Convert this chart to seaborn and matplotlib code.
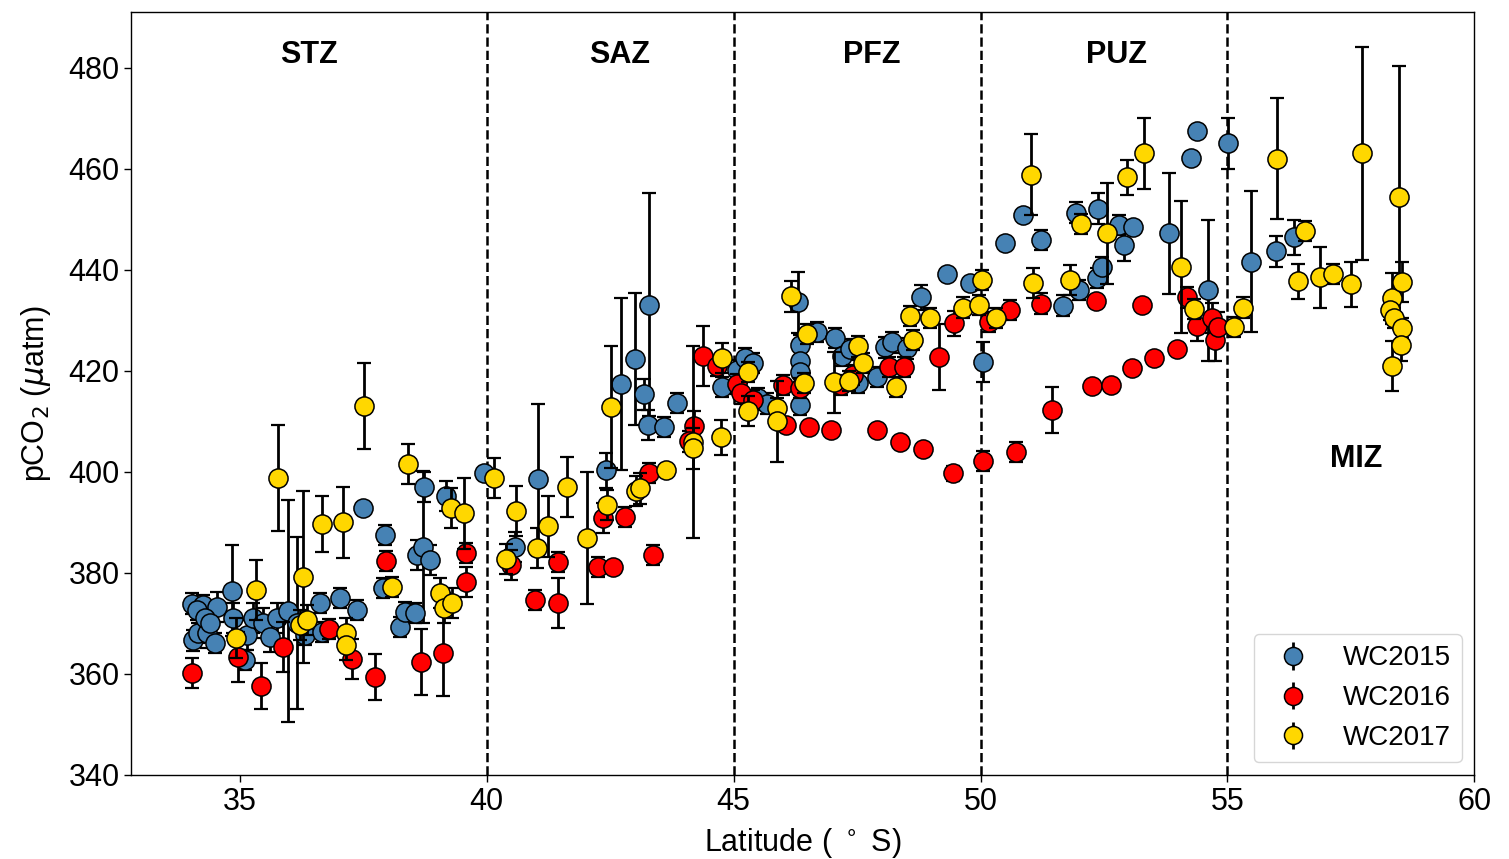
import numpy as np
import pandas as pd
import matplotlib
matplotlib.use("Agg")
import matplotlib.pyplot as plt
import seaborn as sns

# ---------------- data ----------------
lat_2015 = [34.02, 34.25, 34.13, 34.05, 34.15, 34.33, 34.49, 34.53, 34.30, 34.40, 34.84, 34.86, 35.14, 35.10,
            35.26, 35.47, 35.61, 35.75, 35.97, 36.15, 36.32, 36.62, 36.66, 37.02, 37.37, 37.49, 37.94, 37.89,
            38.24, 38.34, 38.54, 38.58, 38.70, 38.85, 38.72, 39.17, 39.94, 40.57, 41.03, 42.41, 42.71, 43.00,
            43.28, 43.18, 43.26, 43.58, 43.85, 44.76, 45.06, 45.22, 45.39, 45.49, 45.67, 46.30, 46.34, 46.34,
            46.34, 46.34, 46.68, 47.06, 47.20, 47.35, 47.51, 47.91, 48.06, 48.20, 48.52, 48.80, 49.33, 49.78,
            50.04, 50.49, 50.87, 51.23, 51.66, 52.00, 51.94, 52.37, 52.35, 52.47, 52.81, 53.08, 52.91, 53.81,
            54.27, 54.39, 54.60, 55.02, 55.47, 55.99, 56.34]
pco2_2015 = [373.9, 373.6, 372.6, 366.6, 368.1, 368.1, 366.1, 373.2, 371.0, 370.0, 376.4, 371.0, 367.7, 362.7,
             371.0, 370.0, 367.3, 371.0, 372.4, 370.0, 367.7, 374.0, 368.3, 375.0, 372.6, 392.8, 387.5, 377.0,
             369.3, 372.2, 372.0, 383.5, 385.1, 382.5, 397.0, 395.2, 399.7, 385.1, 398.5, 400.3, 417.3, 422.3,
             433.1, 415.3, 409.2, 408.8, 413.6, 416.7, 420.1, 422.5, 421.5, 414.5, 413.5, 433.5, 425.0, 422.0,
             419.7, 413.2, 427.6, 426.4, 423.0, 424.2, 417.5, 418.7, 424.6, 425.6, 424.4, 434.5, 439.1, 437.3,
             421.7, 445.2, 450.9, 445.8, 432.9, 435.9, 451.3, 452.1, 438.3, 440.5, 448.8, 448.4, 444.8, 447.2,
             462.2, 467.5, 435.9, 465.0, 441.6, 443.6, 446.4]
err_2015 = [2, 2, 2, 2, 2, 3, 2, 3, 2, 2, 9, 3, 3, 2,
            3, 3, 3, 3, 22, 17, 2, 2, 2, 2, 2, 1, 2, 2,
            2, 2, 2, 3, 15, 3, 3, 3, 1, 3, 15, 3.5, 17, 13,
            22, 3, 3, 2, 2, 2, 2, 2, 2, 2, 2, 6, 2, 2,
            2, 2, 2, 2, 2, 2, 2, 2, 2, 2, 2, 2.5, 1, 1,
            4, 1, 1, 2, 2, 2, 2, 3, 2, 2, 2, 1, 3, 12,
            1, 1, 14, 5, 14, 3, 3.5]

lat_2016 = [34.03, 34.96, 35.43, 35.87, 36.80, 37.27, 37.73, 37.96, 38.66, 39.11, 39.57, 39.57, 40.50, 40.97,
            41.44, 41.44, 42.25, 42.55, 42.35, 42.79, 43.28, 43.36, 44.19, 44.09, 44.37, 44.66, 45.06, 45.14,
            45.39, 46.00, 46.34, 46.07, 46.52, 46.98, 47.18, 47.41, 47.90, 48.14, 48.36, 48.44, 48.83, 49.15,
            49.47, 49.45, 50.04, 50.18, 50.59, 50.71, 51.23, 51.44, 52.25, 52.33, 52.65, 53.06, 53.26, 53.52,
            53.97, 54.19, 54.39, 54.68, 54.74, 54.80]
pco2_2016 = [360.2, 363.3, 357.6, 365.3, 368.9, 362.9, 359.4, 382.3, 362.3, 364.1, 383.9, 378.2, 381.5, 374.6,
             374.0, 382.1, 381.1, 381.1, 390.8, 391.0, 399.7, 383.5, 409.0, 406.0, 422.9, 420.9, 417.3, 415.5,
             414.2, 417.1, 416.5, 409.2, 408.8, 408.2, 417.1, 419.1, 408.2, 420.7, 405.9, 420.7, 404.5, 422.7,
             429.4, 399.7, 402.1, 429.6, 432.0, 403.9, 433.3, 412.2, 416.9, 433.7, 417.1, 420.5, 433.1, 422.5,
             424.2, 434.5, 428.8, 430.4, 426.0, 428.6]
err_2016 = [3, 5, 4.5, 5, 2, 4, 4.5, 2, 6.5, 8.5, 2, 3, 3, 2,
            5, 2, 2, 1, 3, 2, 2, 2, 3, 2, 6, 2, 2, 2,
            2, 2, 2, 1, 1, 1, 2, 2, 1, 2, 1, 2, 1, 6.5,
            2.5, 1.5, 2, 2, 2, 2, 2, 4.5, 1, 1, 1, 1, 1, 1,
            1, 2, 3, 3, 4, 3]

lat_2017 = [34.92, 35.32, 35.77, 36.28, 36.21, 36.35, 36.66, 37.08, 37.15, 37.15, 37.51, 38.40, 38.08, 39.05,
            39.13, 39.29, 39.27, 39.53, 40.14, 40.38, 40.59, 41.01, 41.23, 41.62, 42.02, 42.43, 42.51, 43.02,
            43.10, 43.62, 44.17, 44.17, 44.76, 44.74, 45.30, 45.29, 45.87, 45.87, 46.17, 46.48, 46.42, 47.04,
            47.33, 47.51, 47.61, 48.28, 48.57, 48.63, 48.97, 49.64, 49.96, 50.02, 50.32, 51.03, 51.07, 51.82,
            52.04, 52.57, 52.96, 53.32, 54.07, 54.33, 55.14, 55.32, 56.01, 56.58, 56.42, 56.88, 57.14, 57.51,
            57.73, 58.48, 58.34, 58.30, 58.38, 58.54, 58.54, 58.52, 58.34]
pco2_2017 = [367.1, 376.6, 398.7, 379.2, 369.7, 370.7, 389.6, 390.0, 368.1, 365.7, 413.0, 401.5, 377.2, 376.0,
             373.0, 374.0, 392.8, 391.8, 398.7, 382.7, 392.2, 384.9, 389.2, 397.0, 386.9, 393.4, 412.8, 396.2,
             396.7, 400.3, 405.8, 404.6, 422.5, 406.8, 419.7, 412.0, 412.6, 410.0, 434.7, 427.2, 417.5, 417.7,
             418.0, 424.8, 421.5, 416.7, 430.8, 426.0, 430.4, 432.5, 433.0, 437.9, 430.4, 458.8, 437.3, 437.9,
             449.0, 447.2, 458.3, 463.0, 440.5, 432.2, 428.6, 432.5, 462.0, 447.6, 437.7, 438.5, 439.1, 437.1,
             463.0, 454.3, 434.3, 432.0, 430.4, 437.5, 428.4, 425.0, 420.9]
err_2017 = [4, 6, 10.5, 17, 3, 3, 5.5, 7, 3, 3, 8.5, 4, 2, 3,
            3, 3, 4, 7, 4, 3, 5, 4, 6, 6, 13, 3, 12, 3,
            3, 1, 19, 4, 3, 3.5, 2, 3, 2, 8, 3, 2, 2, 6,
            2, 2, 2, 2, 2, 2, 2, 2, 2, 2, 2, 8, 3, 3,
            2, 10, 3.5, 7, 13, 2, 2, 2, 12, 2, 3.5, 6, 2, 4.5,
            21, 26, 5, 2, 2, 4, 2, 3, 5]

series_names = ["WC2015", "WC2016", "WC2017"]
series_colors = ["#4682B4", "#FF0000", "#FFD700"]

zone_names = ["STZ", "SAZ", "PFZ", "PUZ", "MIZ"]
zone_label_x = [36.4, 42.7, 47.8, 52.75, 57.6]
zone_label_y = [482.5, 482.5, 482.5, 482.5, 402.5]
front_lats = [40, 45, 50, 55]

# ---------------- plot ----------------
sns.set_style("white")
plt.rcParams["font.family"] = ["Liberation Sans", "DejaVu Sans"]
plt.rcParams["mathtext.fontset"] = "dejavusans"
for key in ["text.color", "axes.labelcolor", "xtick.color", "ytick.color", "axes.edgecolor"]:
    plt.rcParams[key] = "black"

fig, ax = plt.subplots(figsize=(15.09, 8.59), dpi=100)
fig.subplots_adjust(left=0.087, right=0.977, top=0.986, bottom=0.098)

lats = [lat_2015, lat_2016, lat_2017]
vals = [pco2_2015, pco2_2016, pco2_2017]
errs = [err_2015, err_2016, err_2017]

frames = []
for name, la, v, e in zip(series_names, lats, vals, errs):
    frames.append(pd.DataFrame({"lat": la, "pco2": v, "err": e, "cruise": name}))

for i, (name, df) in enumerate(zip(series_names, frames)):
    ax.errorbar(df["lat"], df["pco2"], yerr=df["err"], fmt="none", ecolor="black",
                elinewidth=2, capsize=5, capthick=1.6, zorder=2 + 2 * i)
    sns.scatterplot(data=df, x="lat", y="pco2", color=series_colors[i], s=190,
                    edgecolor="black", linewidth=1.1, ax=ax, legend=False, zorder=3 + 2 * i)

# legend handles (errorbar style entries)
handles = []
for name, c in zip(series_names, series_colors):
    h = ax.errorbar([], [], yerr=[], fmt="o", color=c, markeredgecolor="black", markeredgewidth=1.1,
                    markersize=13, ecolor="black", elinewidth=2, capsize=5, label=name)
    handles.append(h)
leg = ax.legend(handles=handles, labels=series_names, loc="lower right", fontsize=20,
                frameon=True, borderpad=0.4, labelspacing=0.5, handletextpad=0.8,
                borderaxespad=0.45)
leg.get_frame().set_edgecolor("#cccccc")

for fl in front_lats:
    ax.axvline(fl, color="black", linestyle="--", linewidth=1.8, zorder=1)

for zn, zx, zy in zip(zone_names, zone_label_x, zone_label_y):
    ax.text(zx, zy, zn, ha="center", va="center", fontsize=22, fontweight="bold")

ax.set_xlim(32.8, 60)
ax.set_ylim(340, 491)
ax.set_xticks([35, 40, 45, 50, 55, 60])
ax.set_yticks(np.arange(340, 481, 20))
ax.tick_params(axis="both", labelsize=22, length=5, width=1, direction="out", colors="black")
ax.tick_params(bottom=True, left=True)
ax.set_xlabel("Latitude ( $^\\circ$ S)", fontsize=22, labelpad=7)
ax.set_ylabel("pCO$_2$ ($\\mu$atm)", fontsize=22, labelpad=11)
for sp in ax.spines.values():
    sp.set_color("black")
    sp.set_linewidth(1.0)

fig.savefig("out.png", dpi=100)
